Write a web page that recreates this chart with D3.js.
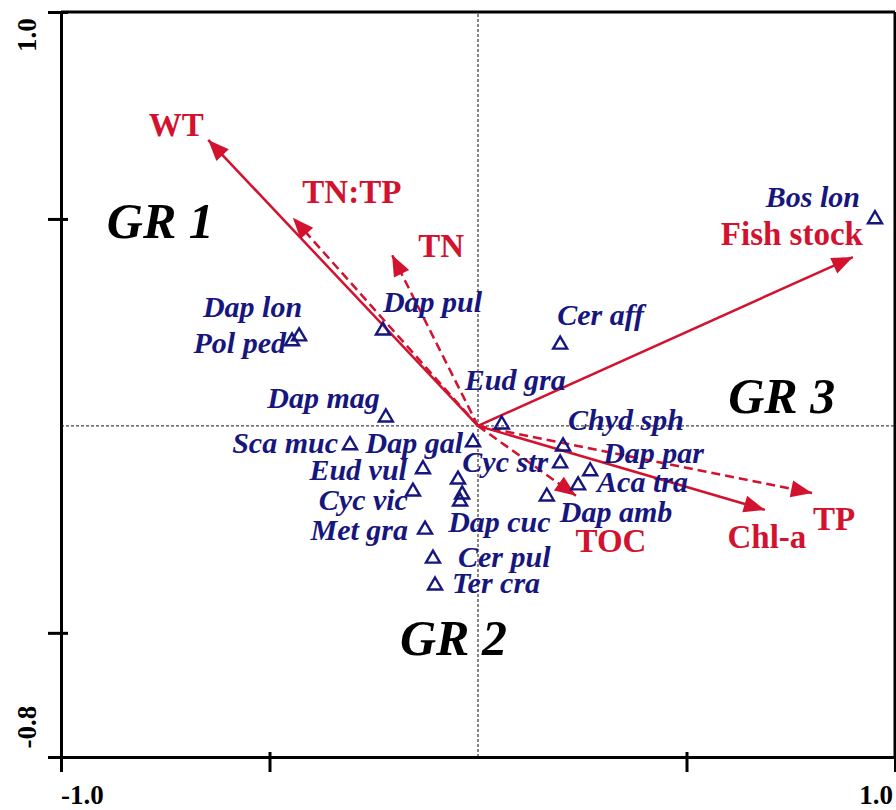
<!DOCTYPE html>
<html>
<head>
<meta charset="utf-8">
<script src="https://cdn.jsdelivr.net/npm/d3@7"></script>
<style>
  html, body { margin: 0; padding: 0; background: #fff; }
  svg { display: block; }
</style>
</head>
<body>
<svg id="chart" width="896" height="810"></svg>
<script>
// Environmental variables (biplot arrows): scores on axis 1 and axis 2
const envVars  = ["WT", "TN:TP", "TN", "Fish stock", "TP", "Chl-a", "TOC"];
const envAxis1 = [-0.647, -0.444, -0.206, 0.899, 0.801, 0.688, 0.235];
const envAxis2 = [ 0.691,  0.503,  0.413, 0.408, -0.162, -0.203, -0.169];

// Species scores (an empty name means the point carries no label)
const species = ["Bos lon", "Cer aff", "Eud gra", "Chyd sph", "Cyc str", "Dap par", "Aca tra", "Dap amb",
                 "Dap lon", "Pol ped", "Dap pul", "Dap mag", "Sca muc", "Dap gal", "Eud vul", "Cyc vic",
                 "", "Dap cuc", "", "Met gra", "Cer pul", "Ter cra"];
const spAxis1 = [0.952, 0.197, 0.057, 0.204, 0.197, 0.269, 0.240, 0.165,
                 -0.429, -0.446, -0.228, -0.221, -0.307, -0.012, -0.132, -0.156,
                 -0.048, -0.038, -0.043, -0.127, -0.108, -0.103];
const spAxis2 = [0.503, 0.200, 0.007, -0.046, -0.087, -0.106, -0.140, -0.167,
                 0.220, 0.208, 0.234, 0.024, -0.043, -0.036, -0.101, -0.155,
                 -0.126, -0.162, -0.179, -0.247, -0.317, -0.382];

// Group annotations
const groups  = ["GR 1", "GR 2", "GR 3"];
const grAxis1 = [-0.890, -0.187, 0.600];
const grAxis2 = [ 0.454, -0.553, 0.031];

// Axis ticks
const xTicks = [-1.0, -0.5, 0.5, 1.0];
const yTicks = [1.0, 0.5, -0.5, -0.8];
const xTickLabels = ["-1.0", "1.0"];
const yTickLabels = ["1.0", "-0.8"];

// ---- styling / layout ----
const RED = "#d2122e", NAVY = "#16167e";
const dashedVars = new Set(["TN:TP", "TN", "TP", "TOC"]);
// label offsets (px) from each arrow tip
const envLabelOffset = {
  "WT": [-32, -4], "TN:TP": [59, -15], "TN": [49, 2], "Fish stock": [-61, -12],
  "TP": [22, 37], "Chl-a": [2, 38], "TOC": [35, 56]
};
// label offsets (px) from each species point, with text anchor
const spLabel = {
  "Bos lon": [-15, -11, "end"], "Cer aff": [-3, -18, "start"], "Eud gra": [-37, -33, "start"],
  "Chyd sph": [5, -15, "start"], "Cyc str": [-12, 10, "end"], "Dap par": [13, -7, "start"],
  "Aca tra": [19, 8, "start"], "Dap amb": [13, 27, "start"], "Dap lon": [3, -18, "end"],
  "Pol ped": [-6, 13, "end"], "Dap pul": [0, -17, "start"], "Dap mag": [-6, -8, "end"],
  "Sca muc": [-12, 9, "end"], "Dap gal": [-10, 12, "end"], "Eud vul": [-16, 12, "end"],
  "Cyc vic": [-5, 20, "end"], "Dap cuc": [-14, 39, "start"], "Met gra": [-17, 12, "end"],
  "Cer pul": [25, 10, "start"], "Ter cra": [17, 9, "start"]
};

const svg = d3.select("#chart");
const x = d3.scaleLinear().domain([-1, 1]).range([61, 895]);
const y = d3.scaleLinear().domain([-0.8, 1.0]).range([757, 12]);

const serif = "'Liberation Serif', 'Times New Roman', serif";

// zero reference lines
svg.append("line").attr("x1", x(-1)).attr("x2", x(1)).attr("y1", y(0)).attr("y2", y(0))
  .attr("stroke", "#444").attr("stroke-width", 1.3).attr("stroke-dasharray", "3,2");
svg.append("line").attr("x1", x(0)).attr("x2", x(0)).attr("y1", y(-0.8)).attr("y2", y(1))
  .attr("stroke", "#444").attr("stroke-width", 1.3).attr("stroke-dasharray", "3,2");

// frame: top and right edges
svg.append("line").attr("x1", x(-1)).attr("x2", x(1)).attr("y1", y(1)).attr("y2", y(1))
  .attr("stroke", "#000").attr("stroke-width", 3);
svg.append("line").attr("x1", x(1)).attr("x2", x(1)).attr("y1", y(1)).attr("y2", y(-0.8))
  .attr("stroke", "#000").attr("stroke-width", 3);

// axes (ticks crossing the frame line)
const gx = svg.append("g").attr("transform", `translate(0,${y(-0.8)})`)
  .call(d3.axisBottom(x).tickValues(xTicks).tickSize(15).tickSizeOuter(0).tickFormat(""));
const gy = svg.append("g").attr("transform", `translate(${x(-1)},0)`)
  .call(d3.axisLeft(y).tickValues(yTicks).tickSize(13).tickSizeOuter(0).tickFormat(""));
gx.selectAll(".tick line").attr("y1", -5);
gy.selectAll(".tick line").attr("x1", 7);
[gx, gy].forEach(g => {
  g.select(".domain").attr("stroke", "#000").attr("stroke-width", 3);
  g.selectAll(".tick line").attr("stroke", "#000").attr("stroke-width", 3);
});

// tick labels at the axis extremes
const tickFont = { "font-family": serif, "font-weight": "bold", "font-size": "27px", fill: "#000" };
const setFont = (sel, f) => { Object.entries(f).forEach(([k, v]) => sel.attr(k, v)); return sel; };
setFont(svg.append("text").attr("x", x(-1)).attr("y", 804).attr("text-anchor", "start").text(xTickLabels[0]), tickFont);
setFont(svg.append("text").attr("x", x(1) - 2).attr("y", 804).attr("text-anchor", "end").text(xTickLabels[1]), tickFont);
setFont(svg.append("text").attr("transform", `translate(36,${y(1) + 23}) rotate(-90)`)
  .attr("text-anchor", "middle").text(yTickLabels[0]), tickFont);
setFont(svg.append("text").attr("transform", `translate(36,${y(-0.8) - 30}) rotate(-90)`)
  .attr("text-anchor", "middle").text(yTickLabels[1]), tickFont);

// arrowhead marker
svg.append("defs").append("marker")
  .attr("id", "head").attr("markerUnits", "userSpaceOnUse")
  .attr("viewBox", "-23 -10 24 20").attr("refX", 0).attr("refY", 0)
  .attr("markerWidth", 24).attr("markerHeight", 20).attr("orient", "auto")
  .append("path").attr("d", "M0,0 L-21,-8.5 L-21,8.5 Z").attr("fill", RED);

// environmental arrows
const env = envVars.map((n, i) => ({ name: n, a1: envAxis1[i], a2: envAxis2[i] }));
svg.append("g").selectAll("line").data(env).join("line")
  .attr("x1", x(0)).attr("y1", y(0))
  .attr("x2", d => x(d.a1)).attr("y2", d => y(d.a2))
  .attr("stroke", RED).attr("stroke-width", 2.5)
  .attr("stroke-dasharray", d => dashedVars.has(d.name) ? "9,5" : null)
  .attr("marker-end", "url(#head)");

// species points (open triangles)
const sp = species.map((n, i) => ({ name: n, a1: spAxis1[i], a2: spAxis2[i] }));
svg.append("g").selectAll("path").data(sp).join("path")
  .attr("transform", d => `translate(${x(d.a1)},${y(d.a2)})`)
  .attr("d", "M0,-6.5 L7,5.5 L-7,5.5 Z")
  .attr("fill", "none").attr("stroke", NAVY).attr("stroke-width", 2.4).attr("stroke-linejoin", "miter");

// species labels
svg.append("g").selectAll("text").data(sp.filter(d => d.name)).join("text")
  .attr("x", d => x(d.a1) + spLabel[d.name][0])
  .attr("y", d => y(d.a2) + spLabel[d.name][1])
  .attr("text-anchor", d => spLabel[d.name][2])
  .attr("font-family", serif).attr("font-weight", "bold").attr("font-style", "italic")
  .attr("font-size", "30px").attr("fill", NAVY)
  .text(d => d.name);

// environmental labels
svg.append("g").selectAll("text").data(env).join("text")
  .attr("x", d => x(d.a1) + envLabelOffset[d.name][0])
  .attr("y", d => y(d.a2) + envLabelOffset[d.name][1])
  .attr("text-anchor", "middle")
  .attr("font-family", serif).attr("font-weight", "bold")
  .attr("font-size", "33px").attr("fill", RED)
  .text(d => d.name);

// group labels
const gr = groups.map((n, i) => ({ name: n, a1: grAxis1[i], a2: grAxis2[i] }));
svg.append("g").selectAll("text").data(gr).join("text")
  .attr("x", d => x(d.a1)).attr("y", d => y(d.a2))
  .attr("font-family", serif).attr("font-weight", "bold").attr("font-style", "italic")
  .attr("font-size", "50px").attr("fill", "#000")
  .text(d => d.name);
</script>
</body>
</html>
